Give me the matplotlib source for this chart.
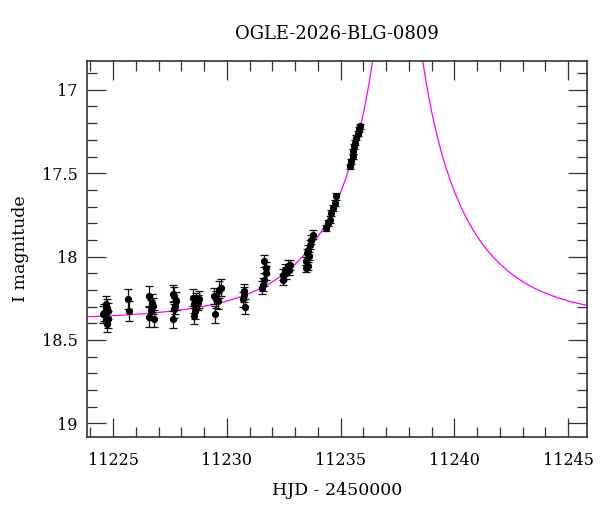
import matplotlib
matplotlib.use('Agg')
import matplotlib.pyplot as plt
from matplotlib.ticker import MultipleLocator

plt.rcParams['font.family'] = ['DejaVu Serif']

TITLE = 'OGLE-2026-BLG-0809'
XLABEL = 'HJD - 2450000'
YLABEL = 'I magnitude'

# photometry
HJD = [11224.57, 11224.60, 11224.68, 11224.72, 11224.75, 11224.72, 11224.78,
       11225.66, 11225.70,
       11226.56, 11226.69, 11226.73, 11226.66, 11226.59, 11226.78,
       11227.61, 11227.69, 11227.76, 11227.72, 11227.66, 11227.61,
       11228.49, 11228.64, 11228.57, 11228.71, 11228.79, 11228.61, 11228.57,
       11229.45, 11229.52, 11229.67, 11229.72, 11229.49, 11229.59,
       11230.73, 11230.77, 11230.70, 11230.81,
       11231.65, 11231.73, 11231.70, 11231.61, 11231.58, 11231.55,
       11232.46, 11232.53, 11232.68, 11232.75, 11232.61, 11232.46, 11232.72,
       11233.78, 11233.71, 11233.63, 11233.56, 11233.52, 11233.60, 11233.49,
       11233.56, 11233.46,
       11234.37, 11234.44, 11234.52, 11234.59, 11234.66, 11234.74, 11234.81,
       11235.43, 11235.47, 11235.52, 11235.56, 11235.60, 11235.65, 11235.69,
       11235.75, 11235.81, 11235.85]
MAG = [18.347, 18.337, 18.287, 18.307, 18.377, 18.407, 18.327,
       18.253, 18.327,
       18.234, 18.278, 18.297, 18.321, 18.361, 18.373,
       18.222, 18.234, 18.267, 18.297, 18.317, 18.377,
       18.247, 18.267, 18.287, 18.277, 18.257, 18.327, 18.357,
       18.237, 18.257, 18.198, 18.187, 18.347, 18.267,
       18.208, 18.228, 18.257, 18.300,
       18.028, 18.068, 18.098, 18.138, 18.168, 18.187,
       18.108, 18.078, 18.058, 18.048, 18.098, 18.138, 18.078,
       17.868, 17.898, 17.928, 17.958, 17.978, 17.998, 18.028,
       18.058, 18.070,
       17.828, 17.798, 17.778, 17.738, 17.708, 17.678, 17.639,
       17.457, 17.427, 17.397, 17.367, 17.337, 17.317, 17.287,
       17.263, 17.238, 17.218]
ERR = [0.05, 0.05, 0.05, 0.055, 0.05, 0.045, 0.05,
       0.06, 0.06,
       0.06, 0.055, 0.05, 0.06, 0.06, 0.05,
       0.05, 0.05, 0.055, 0.05, 0.05, 0.05,
       0.05, 0.05, 0.05, 0.045, 0.05, 0.045, 0.05,
       0.05, 0.05, 0.05, 0.05, 0.05, 0.05,
       0.045, 0.045, 0.045, 0.045,
       0.035, 0.035, 0.04, 0.04, 0.04, 0.04,
       0.035, 0.035, 0.035, 0.03, 0.035, 0.035, 0.03,
       0.025, 0.025, 0.025, 0.025, 0.025, 0.025, 0.025,
       0.025, 0.02,
       0.02, 0.02, 0.02, 0.02, 0.02, 0.02, 0.02,
       0.015, 0.015, 0.015, 0.015, 0.015, 0.015, 0.015,
       0.015, 0.015, 0.015]

# model curve, rising and falling branch
RISE_T = [11223.855, 11225.305, 11226.505, 11227.505, 11228.505, 11229.205,
          11229.905, 11230.505, 11231.005, 11231.505, 11231.905, 11232.305,
          11232.655, 11233.005, 11233.305, 11233.605, 11233.905, 11234.155,
          11234.405, 11234.605, 11234.805, 11235.005, 11235.205, 11235.405,
          11235.555, 11235.705, 11235.855, 11236.005, 11236.155, 11236.255,
          11236.355, 11236.455, 11236.555, 11236.655]
RISE_MAG = [18.361, 18.352, 18.341, 18.328, 18.310, 18.292,
            18.270, 18.245, 18.220, 18.189, 18.159, 18.123,
            18.087, 18.045, 18.003, 17.955, 17.900, 17.848,
            17.789, 17.736, 17.677, 17.612, 17.539, 17.456,
            17.388, 17.312, 17.229, 17.136, 17.031, 16.954,
            16.870, 16.777, 16.675, 16.560]
FALL_T = [11238.355, 11238.455, 11238.555, 11238.655, 11238.755, 11238.855,
          11239.005, 11239.155, 11239.305, 11239.455, 11239.605, 11239.805,
          11240.005, 11240.205, 11240.405, 11240.605, 11240.855, 11241.105,
          11241.405, 11241.705, 11242.005, 11242.355, 11242.705, 11243.105,
          11243.505, 11244.005, 11244.505, 11245.105, 11245.805, 11246.505]
FALL_MAG = [16.560, 16.675, 16.777, 16.870, 16.954, 17.031,
            17.136, 17.229, 17.312, 17.388, 17.456, 17.539,
            17.612, 17.677, 17.736, 17.789, 17.848, 17.900,
            17.955, 18.003, 18.045, 18.087, 18.123, 18.159,
            18.189, 18.220, 18.245, 18.270, 18.292, 18.310]


def main():
    fig = plt.figure(figsize=(6, 5.12), dpi=100)
    ax = fig.add_axes([0.1455, 0.147, 0.8333, 0.733])

    ax.plot(RISE_T, RISE_MAG, color='#ff00ff', lw=0.9, zorder=1)
    ax.plot(FALL_T, FALL_MAG, color='#ff00ff', lw=0.9, zorder=1)
    ax.errorbar(HJD, MAG, yerr=ERR, fmt='o', color='black', ms=4.2,
                ecolor='#111111', elinewidth=0.9, capsize=2.8, capthick=0.9, zorder=2)

    ax.set_xlim(11223.86, 11245.84)
    ax.set_ylim(19.08, 16.83)

    ax.xaxis.set_major_locator(MultipleLocator(5))
    ax.xaxis.set_minor_locator(MultipleLocator(1))
    ax.yaxis.set_major_locator(MultipleLocator(0.5))
    ax.yaxis.set_minor_locator(MultipleLocator(0.1))
    ax.yaxis.set_major_formatter(plt.FuncFormatter(lambda v, p: ('%g' % v)))
    ax.xaxis.set_major_formatter(plt.FuncFormatter(lambda v, p: ('%d' % v)))

    ax.tick_params(which='both', direction='in', top=True, right=True,
                   color='#333333', width=0.9, labelsize=11.5)
    ax.tick_params(which='major', length=13.5)
    ax.tick_params(which='minor', length=7)
    ax.tick_params(axis='x', pad=11)
    ax.tick_params(axis='y', pad=7)
    for sp in ax.spines.values():
        sp.set_color('#333333')
        sp.set_linewidth(1.2)

    ax.set_title(TITLE, fontsize=13, pad=16)
    ax.set_xlabel(XLABEL, fontsize=12.5, labelpad=9)
    ax.set_ylabel(YLABEL, fontsize=12.5, labelpad=9)

    fig.savefig('out.png', dpi=100)


if __name__ == '__main__':
    main()
